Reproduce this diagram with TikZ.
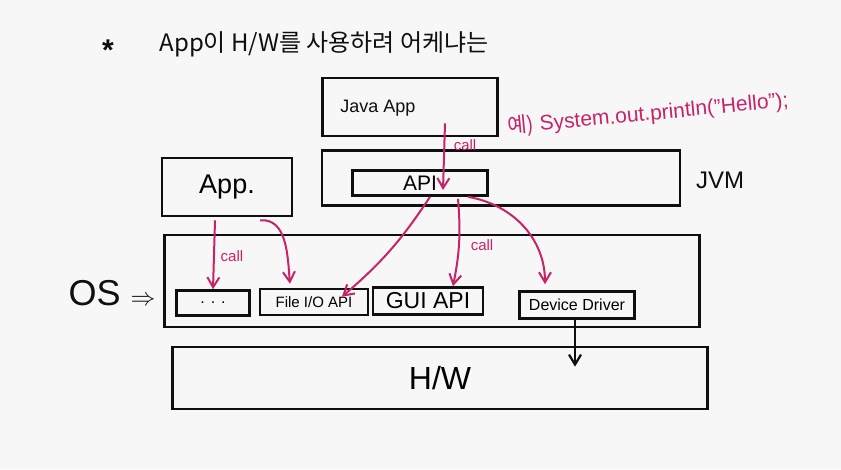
\documentclass[tikz,border=0pt]{standalone}
\usepackage{fontspec}
\setmainfont{Liberation Sans}
\newfontfamily\kr{Noto Sans CJK KR}
\usetikzlibrary{arrows.meta}
\definecolor{pen}{RGB}{200,35,105}
\definecolor{ink}{RGB}{15,15,15}
\begin{document}
\begin{tikzpicture}[x=1pt,y=-1pt,
  box/.style={draw=ink, line width=2.6pt, inner sep=0pt},
  call/.style={draw=pen, line width=2pt, -{Straight Barb[length=10pt,width=12pt,line width=2pt]}},
  calltxt/.style={text=pen, font=\fontsize{15}{15}\selectfont},
  down/.style={draw=ink, line width=2.2pt, -{Straight Barb[length=10pt,width=12pt,line width=2.2pt]}}]
\fill[white!97!black] (0,0) rectangle (841,469);
\useasboundingbox (0,0) rectangle (841,469);

% title
\node[text=ink, font=\fontsize{30}{30}\selectfont\bfseries] (star) at (108,50) {*};
\node[anchor=west, text=ink, font=\kr\fontsize{24}{24}\selectfont] (title) at (156,44) {App이 H/W를 사용하려 어케냐는};

% JVM side
\node[box, minimum width=175pt, minimum height=58pt] (javaapp) at (410,107) {};
\node[text=ink, font=\fontsize{18}{18}\selectfont] (jatext) at (378,108) {Java App};
\node[box, minimum width=358pt, minimum height=55pt] (jvm) at (501,178) {};
\node[text=ink, font=\fontsize{24}{24}\selectfont] (jvmtext) at (720,180) {JVM};
\node[box, minimum width=135pt, minimum height=25pt, font=\fontsize{21}{21}\selectfont] (api) at (420,183) {API};

% App
\node[box, minimum width=130pt, minimum height=58pt, font=\fontsize{27}{27}\selectfont] (app) at (227,187) {App.};

% OS
\node[box, minimum width=535pt, minimum height=92pt] (os) at (432,281) {};
\node[text=ink, font=\fontsize{36}{36}\selectfont] (ostext) at (112,293) {OS $\Rightarrow$};
\node[box, minimum width=73pt, minimum height=25pt, font=\fontsize{16}{16}\selectfont] (dots) at (213,303) {. . .};
\node[box, minimum width=108pt, minimum height=26pt, font=\fontsize{15}{15}\selectfont] (fileio) at (314,302) {File I/O API};
\node[box, minimum width=110pt, minimum height=27pt, font=\fontsize{23}{23}\selectfont] (gui) at (428,301) {GUI API};
\node[box, minimum width=115pt, minimum height=27pt, font=\fontsize{16}{16}\selectfont] (dd) at (577,305) {Device Driver};

% H/W
\node[box, minimum width=535pt, minimum height=62pt, font=\fontsize{32}{32}\selectfont] (hw) at (440,378) {H/W};

% example text
\node[text=pen, rotate=5.5, font=\fontsize{21}{21}\selectfont] (example) at (648,114) {{\kr 예)} System.out.println("Hello");};

% calls
\draw[call] ([xshift=35pt,yshift=14pt]javaapp.south) -- ([xshift=23pt,yshift=-7pt]api.center);
\node[calltxt] (call1) at (465,145) {call};
\draw[call] ([xshift=10pt]api.south) to[bend left=8] ([xshift=28pt,yshift=-9pt]fileio.north);
\draw[call] ([xshift=38pt,yshift=-2pt]api.south) to[bend left=8] ([xshift=25pt]gui.north);
\node[calltxt] (call2) at (482,245) {call};
\draw[call] ([xshift=48pt]api.south) to[out=-10,in=90] ([xshift=-32pt,yshift=6pt]dd.north);

\draw[call] ([xshift=-12pt,yshift=-3pt]app.south) -- (dots.north);
\node[calltxt] (call3) at (232,256) {call};
\draw[call] ([xshift=33pt,yshift=-3pt]app.south) to[out=5,in=95] ([xshift=-24pt,yshift=4pt]fileio.north);

\draw[down] ([xshift=-2pt]dd.south) -- ([xshift=135pt,yshift=-21pt]hw.north);
\end{tikzpicture}
\end{document}
